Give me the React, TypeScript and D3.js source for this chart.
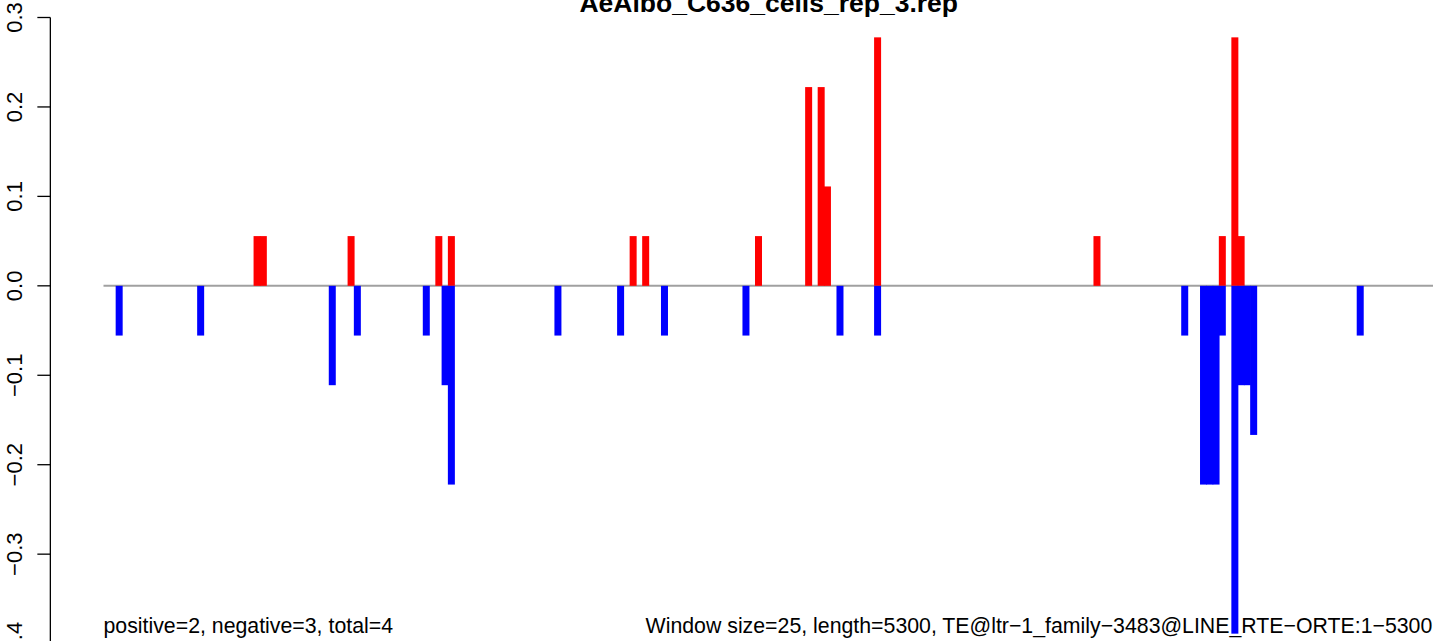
import React from "react";
import * as d3 from "d3";

const title = "AeAlbo_C636_cells_rep_3.rep";
const leftNote = "positive=2, negative=3, total=4";
const rightNote = "Window size=25, length=5300, TE@ltr\u22121_family\u22123483@LINE_RTE\u2212ORTE:1\u22125300";

const windowSize = 25;
const teLength = 5300;

// window start (bp) and signal for the positive strand
const posStarts = [600, 625, 975, 1325, 1375, 2100, 2150, 2600, 2800, 2850, 2875, 3075, 3950, 4450, 4500, 4525];
const posValues = [0.0556, 0.0556, 0.0556, 0.0556, 0.0556, 0.0556, 0.0556, 0.0556, 0.2222, 0.2222, 0.1111, 0.2778, 0.0556, 0.0556, 0.2778, 0.0556];

// window start (bp) and signal for the negative strand
const negStarts = [50, 375, 900, 1000, 1275, 1350, 1375, 1800, 2050, 2225, 2550, 2925, 3075, 4300, 4375, 4400, 4425, 4450, 4500, 4525, 4550, 4575, 5000];
const negValues = [-0.0556, -0.0556, -0.1111, -0.0556, -0.0556, -0.1111, -0.2222, -0.0556, -0.0556, -0.0556, -0.0556, -0.0556, -0.0556, -0.0556, -0.2222, -0.2222, -0.2222, -0.0556, -0.3889, -0.1111, -0.1111, -0.1667, -0.0556];

const yTicks = [-0.4, -0.3, -0.2, -0.1, 0.0, 0.1, 0.2, 0.3];

const W = 1433;
const H = 641;
const barW = 7;
const font = "'Liberation Sans', Arial, Helvetica, sans-serif";

export default function App() {
  const x = d3.scaleLinear().domain([0, teLength]).range([103.5, 1432.3]);
  const y = d3.scaleLinear().domain([-0.4, 0.3]).range([643.6, 17.5]);
  const fmt = d3.format(".1f");
  const axisX = x(-teLength * 0.04);

  const pos = posStarts.map((s, i) => ({ s, v: posValues[i] }));
  const neg = negStarts.map((s, i) => ({ s, v: negValues[i] }));

  return (
    <svg
      width={W}
      height={H}
      style={{ position: "absolute", left: 0, top: 0, background: "#fff" }}
      fontFamily={font}
    >
      <rect width={W} height={H} fill="#fff" />
      <text x={(x(0) + W) / 2 + 0.5} y={12} textAnchor="middle" fontWeight="bold" fontSize={26.5}>
        {title}
      </text>

      {/* y axis */}
      <line x1={axisX} x2={axisX} y1={y(0.3)} y2={y(-0.4)} stroke="#000" strokeWidth={1.3} />
      {yTicks.map((t) => (
        <g key={t}>
          <line x1={axisX - 13} x2={axisX} y1={y(t)} y2={y(t)} stroke="#000" strokeWidth={1.3} />
          <text
            transform={`translate(${axisX - 28},${y(t)}) rotate(-90)`}
            textAnchor="middle"
            fontSize={22}
          >
            {fmt(t)}
          </text>
        </g>
      ))}

      {/* zero line */}
      <line x1={x(0)} x2={W} y1={y(0)} y2={y(0)} stroke="#a0a0a0" strokeWidth={2} />

      {pos.map((d, i) => (
        <rect
          key={"p" + i}
          x={x(d.s + windowSize / 2) - barW / 2}
          width={barW}
          y={y(d.v)}
          height={y(0) - y(d.v)}
          fill="#ff0000"
        />
      ))}
      {neg.map((d, i) => (
        <rect
          key={"n" + i}
          x={x(d.s + windowSize / 2) - barW / 2}
          width={barW}
          y={y(0)}
          height={y(d.v) - y(0)}
          fill="#0000ff"
        />
      ))}

      <text x={x(0)} y={633} fontSize={21.3}>
        {leftNote}
      </text>
      <text x={x(teLength)} y={633} textAnchor="end" fontSize={21.3}>
        {rightNote}
      </text>
    </svg>
  );
}
